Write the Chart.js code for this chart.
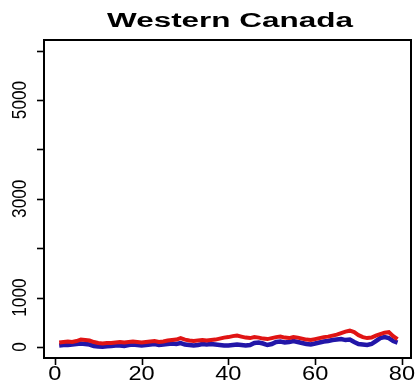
<!DOCTYPE html>
<html>
<head>
<meta charset="utf-8">
<script src="https://cdn.jsdelivr.net/npm/chart.js@4/dist/chart.umd.min.js"></script>
<style>
  body { margin: 0; background: #fff; }
  canvas { display: block; }
</style>
</head>
<body>
<canvas id="chart" width="415" height="384"></canvas>
<script>
// data
const titulo = "Western Canada";

const periodos = [
   1,  2,  3,  4,  5,  6,  7,  8,  9, 10,
  11, 12, 13, 14, 15, 16, 17, 18, 19, 20,
  21, 22, 23, 24, 25, 26, 27, 28, 29, 30,
  31, 32, 33, 34, 35, 36, 37, 38, 39, 40,
  41, 42, 43, 44, 45, 46, 47, 48, 49, 50,
  51, 52, 53, 54, 55, 56, 57, 58, 59, 60,
  61, 62, 63, 64, 65, 66, 67, 68, 69, 70,
  71, 72, 73, 74, 75, 76, 77, 78, 79
];

const serieRoja = [
   90, 100, 110, 100, 120, 150, 140, 130, 100,  80,
   70,  80,  80,  90, 100,  90, 100, 110, 100,  90,
  100, 110, 120, 100, 110, 130, 140, 150, 180, 150,
  130, 120, 130, 140, 130, 140, 150, 170, 190, 200,
  220, 230, 210, 190, 180, 200, 190, 170, 160, 180,
  200, 210, 190, 180, 200, 190, 170, 150, 140, 160,
  180, 200, 210, 230, 250, 280, 310, 330, 300, 240,
  200, 180, 190, 230, 260, 290, 300, 220, 160
];

const serieAzul = [
   30,  40,  40,  50,  60,  70,  60,  50,  20,  10,
    5,  15,  20,  30,  30,  20,  40,  50,  40,  30,
   40,  50,  60,  40,  50,  60,  70,  60,  80,  50,
   40,  30,  40,  60,  50,  60,  50,  40,  30,  30,
   40,  50,  40,  30,  40,  80,  90,  70,  40,  60,
  100, 110,  90, 100, 120, 100,  80,  60,  50,  70,
   90, 110, 120, 140, 150, 160, 140, 150, 100,  60,
   50,  40,  60, 120, 180, 200, 180, 120,  90
];

const ticksX = [0, 20, 40, 60, 80];
const ticksY = [0, 1000, 2000, 3000, 4000, 5000, 6000];
const etiquetasY = [0, 1000, 3000, 5000];

// texto estirado como en la imagen
function textoEscalado(ctx, txt, x, y, ancho, rot, escala) {
  ctx.save();
  ctx.translate(x, y);
  if (rot) ctx.rotate(rot);
  let sx = escala;
  if (ancho) sx = ancho / ctx.measureText(txt).width;
  ctx.scale(sx, 1);
  ctx.fillText(txt, 0, 0);
  ctx.restore();
}

const marcoR = {
  id: "marcoR",
  afterDraw(chart) {
    const ctx = chart.ctx;
    const a = chart.chartArea;
    const sx = chart.scales.x;
    const sy = chart.scales.y;
    ctx.save();
    ctx.strokeStyle = "#000";
    ctx.fillStyle = "#000";
    ctx.lineWidth = 2;
    ctx.strokeRect(a.left, a.top, a.right - a.left, a.bottom - a.top);

    // marcas eje y
    ctx.lineWidth = 1.6;
    ticksY.forEach(v => {
      const py = Math.round(sy.getPixelForValue(v)) + 0.5;
      ctx.beginPath();
      ctx.moveTo(a.left - 7, py);
      ctx.lineTo(a.left, py);
      ctx.stroke();
    });
    // marcas eje x
    ticksX.forEach(v => {
      const px = Math.round(sx.getPixelForValue(v)) + 0.5;
      ctx.beginPath();
      ctx.moveTo(px, a.bottom);
      ctx.lineTo(px, a.bottom + 7);
      ctx.stroke();
    });

    ctx.font = "20px 'Liberation Sans', Arial, sans-serif";
    ctx.textAlign = "center";
    ctx.textBaseline = "middle";
    ticksX.forEach(v => {
      textoEscalado(ctx, String(v), sx.getPixelForValue(v), 374, 0, 0, 1.18);
    });
    etiquetasY.forEach(v => {
      textoEscalado(ctx, String(v), 20, sy.getPixelForValue(v), 0, -Math.PI / 2, 0.86);
    });

    ctx.font = "bold 20px 'Liberation Sans', Arial, sans-serif";
    ctx.textBaseline = "alphabetic";
    textoEscalado(ctx, titulo, 230, 27, 246, 0, 1);
    ctx.restore();
  }
};

new Chart(document.getElementById("chart"), {
  type: "line",
  data: {
    datasets: [
      {
        label: "rojo",
        data: periodos.map((p, i) => ({ x: p, y: serieRoja[i] })),
        borderColor: "#e01414",
        borderWidth: 4,
        pointRadius: 0,
        tension: 0
      },
      {
        label: "azul",
        data: periodos.map((p, i) => ({ x: p, y: serieAzul[i] })),
        borderColor: "#2216a8",
        borderWidth: 4.5,
        pointRadius: 0,
        tension: 0
      }
    ]
  },
  options: {
    responsive: false,
    animation: false,
    layout: { padding: { left: 44, top: 40, right: 4, bottom: 26 } },
    plugins: { legend: { display: false }, tooltip: { enabled: false } },
    scales: {
      x: { type: "linear", display: false, min: -2.5, max: 82.1 },
      y: { type: "linear", display: false, min: -223, max: 6215 }
    }
  },
  plugins: [marcoR]
});
</script>
</body>
</html>
